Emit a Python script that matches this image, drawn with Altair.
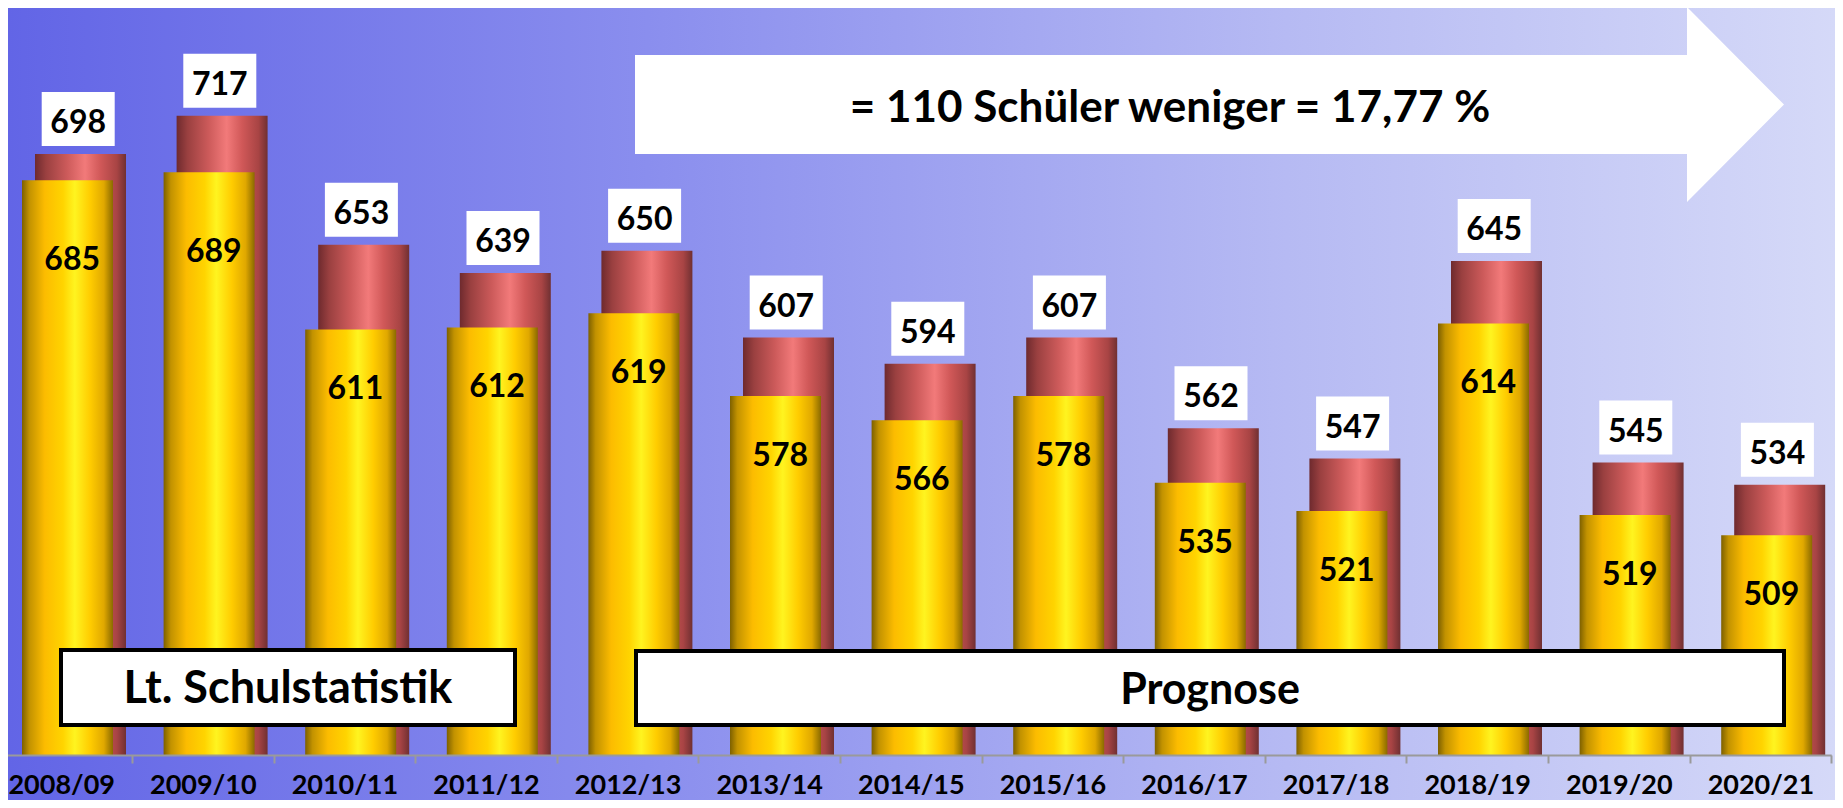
import altair as alt
import pandas as pd

# ---- data ----
jahre = ["2008/09", "2009/10", "2010/11", "2011/12", "2012/13", "2013/14", "2014/15",
         "2015/16", "2016/17", "2017/18", "2018/19", "2019/20", "2020/21"]
werte_gelb = [685, 689, 611, 612, 619, 578, 566, 578, 535, 521, 614, 519, 509]
werte_rot = [698, 717, 653, 639, 650, 607, 594, 607, 562, 547, 645, 545, 534]
pfeil_text = "= 110 Schüler weniger = 17,77 %"
box_links = "Lt. Schulstatistik"
box_rechts = "Prognose"

df = pd.DataFrame({"jahr": jahre, "gelb": werte_gelb, "rot": werte_rot})
one = pd.DataFrame({"k": [0]})

W, H = 1827, 747
FONT = "Lato"

def lin(stops):
    return {"gradient": "linear", "x1": 0, "x2": 1, "y1": 0, "y2": 0,
            "stops": [{"offset": o, "color": c} for o, c in stops]}

bg_grad = lin([(0, "#6265e6"), (0.35, "#8a8eee"), (0.7, "#b6baf3"), (1, "#d5d9f8")])
gelb_grad = lin([(0, "#7d6000"), (0.08, "#c29200"), (0.25, "#fcbc00"), (0.45, "#ffd400"),
                 (0.58, "#fff420"), (0.75, "#ffcc00"), (0.9, "#e0a800"), (1, "#8a6a00")])
rot_grad = lin([(0, "#6e2a2e"), (0.12, "#9a4040"), (0.35, "#cc5a5a"), (0.55, "#f27a7a"),
                (0.72, "#d05858"), (0.9, "#a84444"), (1, "#703032")])

x_enc = alt.X("jahr:N", sort=jahre,
              scale=alt.Scale(range=[-17.6, 1823.2], paddingInner=0, paddingOuter=0),
              axis=alt.Axis(title=None, labelAngle=0, labelFont=FONT, labelFontWeight="bold",
                            labelFontSize=27, labelColor="black", labelBaseline="alphabetic",
                            labelPadding=30, tickSize=8, tickBand="extent",
                            domainColor="#9a9a9a", domainWidth=2, tickColor="#9a9a9a",
                            tickWidth=2, grid=False, zindex=1))
y_scale = alt.Scale(domain=[400, 770.4], zero=False, nice=False)

bg = alt.Chart(one).mark_rect(fill=bg_grad).encode(
    x=alt.value(0), x2=alt.value(W), y=alt.value(-10), y2=alt.value(H + 60))

base = alt.Chart(df)

rot_bars = base.mark_bar(width=91, xOffset=19.3, fill=rot_grad).encode(
    x=x_enc, y=alt.Y("rot:Q", scale=y_scale, axis=None), y2=alt.datum(400))
gelb_bars = base.mark_bar(width=91, xOffset=6.3, fill=gelb_grad).encode(
    x=x_enc, y=alt.Y("gelb:Q", scale=y_scale, axis=None), y2=alt.datum(400))

box_shape = "M-1.352,-1L1.352,-1L1.352,1L-1.352,1Z"
rot_boxes = base.mark_point(shape=box_shape, filled=True, fill="white", opacity=1,
                            size=54 * 54, strokeWidth=0, xOffset=17, yOffset=-35).encode(
    x=x_enc, y=alt.Y("rot:Q", scale=y_scale, axis=None))
rot_text = base.mark_text(font=FONT, fontWeight="bold", fontSize=32, color="black",
                          baseline="alphabetic", dx=17, dy=-21).encode(
    x=x_enc, y=alt.Y("rot:Q", scale=y_scale, axis=None), text="rot:Q")

erste = alt.FieldOneOfPredicate(field="jahr", oneOf=jahre[:2])
gelb_text_a = base.transform_filter(erste).mark_text(
    font=FONT, fontWeight="bold", fontSize=32, color="black",
    baseline="alphabetic", dx=11, dy=90).encode(
    x=x_enc, y=alt.Y("gelb:Q", scale=y_scale, axis=None), text="gelb:Q")
gelb_text_b = base.transform_filter(~erste).mark_text(
    font=FONT, fontWeight="bold", fontSize=32, color="black",
    baseline="alphabetic", dx=11, dy=70).encode(
    x=x_enc, y=alt.Y("gelb:Q", scale=y_scale, axis=None), text="gelb:Q")

box_l = alt.Chart(one).mark_rect(fill="white", stroke="black", strokeWidth=4).encode(
    x=alt.value(53), x2=alt.value(507), y=alt.value(642), y2=alt.value(717))
box_r = alt.Chart(one).mark_rect(fill="white", stroke="black", strokeWidth=4).encode(
    x=alt.value(628), x2=alt.value(1776), y=alt.value(643), y2=alt.value(717))
text_l = alt.Chart(one).mark_text(font=FONT, fontWeight="bold", fontSize=45, color="black",
                                  baseline="alphabetic", align="center").encode(
    x=alt.value(280), y=alt.value(695), text=alt.value(box_links))
text_r = alt.Chart(one).mark_text(font=FONT, fontWeight="bold", fontSize=43, color="black",
                                  baseline="alphabetic", align="center").encode(
    x=alt.value(1202), y=alt.value(696), text=alt.value(box_rechts))

pfeil_shape = ("M-5.745,-0.495L4.775,-0.495L4.775,-0.975L5.745,0L4.775,0.975"
               "L4.775,0.495L-5.745,0.495Z")
pfeil = alt.Chart(one).mark_point(shape=pfeil_shape, filled=True, fill="white", opacity=1,
                                  size=40000, strokeWidth=0).encode(
    x=alt.value(1201.5), y=alt.value(96.5))
pfeil_t = alt.Chart(one).mark_text(font=FONT, fontWeight="bold", fontSize=44, color="black",
                                   baseline="alphabetic", align="center").encode(
    x=alt.value(1162), y=alt.value(114), text=alt.value(pfeil_text))

chart = alt.layer(
    bg, rot_bars, gelb_bars, rot_boxes, rot_text, gelb_text_a, gelb_text_b,
    box_l, box_r, text_l, text_r, pfeil, pfeil_t
).properties(
    width=W, height=H,
    autosize=alt.AutoSizeParams(type="none"),
    padding={"left": 0, "top": 0, "right": 0, "bottom": 45},
    background="#8a8eee",
).configure_view(strokeWidth=0)

chart.save("out.html", embed_options={"renderer": "svg", "actions": False})
